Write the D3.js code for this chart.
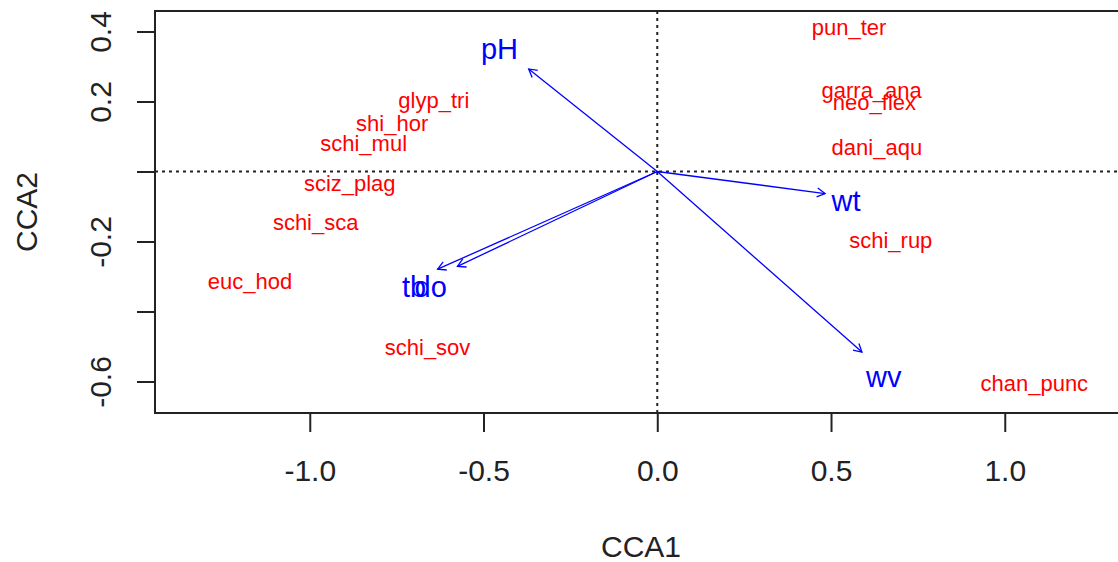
<!DOCTYPE html>
<html>
<head>
<meta charset="utf-8">
<script src="https://cdn.jsdelivr.net/npm/d3@7"></script>
<style>
  body { margin: 0; background: #fff; }
  svg { display: block; font-family: "Liberation Sans", Arial, sans-serif; }
</style>
</head>
<body>
<div id="ChartContainer"></div>
<script>
// species scores (CCA1, CCA2)
var species = ["pun_ter", "garra_ana", "neo_flex", "dani_aqu", "schi_rup", "chan_punc",
  "glyp_tri", "shi_hor", "schi_mul", "sciz_plag", "schi_sca", "euc_hod", "schi_sov"]
var speciesCCA1 = [0.552, 0.617, 0.625, 0.632, 0.672, 1.085,
  -0.643, -0.763, -0.845, -0.885, -0.983, -1.172, -0.661]
var speciesCCA2 = [0.413, 0.231, 0.199, 0.068, -0.197, -0.604,
  0.204, 0.137, 0.080, -0.034, -0.145, -0.313, -0.501]

// environmental vectors (arrow heads) and their label positions
var envVars = ["pH", "wt", "wv", "tb", "do"]
var envCCA1 = [-0.370, 0.483, 0.589, -0.632, -0.575]
var envCCA2 = [0.293, -0.063, -0.516, -0.279, -0.271]
var envLabelCCA1 = [-0.454, 0.543, 0.652, -0.700, -0.652]
var envLabelCCA2 = [0.350, -0.085, -0.587, -0.330, -0.330]

var xTicks = [-1.0, -0.5, 0.0, 0.5, 1.0]
var yTicks = [0.4, 0.2, 0.0, -0.2, -0.4, -0.6]
var yTickLabels = ["0.4", "0.2", "", "-0.2", "", "-0.6"]

var margin = { top: 11, right: 0, bottom: 149, left: 155 }
var fullWidth = 1118
var fullHeight = 562
var plotWidth = 975
var height = fullHeight - margin.top - margin.bottom

var x = d3.scaleLinear()
  .domain([-1.4454, 1.3604])
  .range([0, plotWidth])
var y = d3.scaleLinear()
  .domain([-0.6900, 0.4586])
  .range([height, 0])

var svg = d3.select("#ChartContainer").append("svg")
  .attr("width", fullWidth)
  .attr("height", fullHeight)

svg.append("defs").append("marker")
  .attr("id", "head")
  .attr("markerUnits", "userSpaceOnUse")
  .attr("viewBox", "-10 -6 12 12")
  .attr("refX", 0)
  .attr("refY", 0)
  .attr("markerWidth", 12)
  .attr("markerHeight", 12)
  .attr("orient", "auto")
  .append("path")
  .attr("d", "M-8,-4.5L0,0L-8,4.5")
  .attr("fill", "none")
  .attr("stroke", "#0000ff")
  .attr("stroke-width", 1.3)

var g = svg.append("g")
  .attr("transform", `translate(${margin.left},${margin.top})`)

// zero lines
g.append("line")
  .attr("x1", 0).attr("x2", plotWidth)
  .attr("y1", y(0)).attr("y2", y(0))
  .attr("stroke", "#222").attr("stroke-width", 2)
  .attr("stroke-dasharray", "3,4")
g.append("line")
  .attr("x1", x(0)).attr("x2", x(0))
  .attr("y1", 0).attr("y2", height)
  .attr("stroke", "#222").attr("stroke-width", 2)
  .attr("stroke-dasharray", "3,4")

// species labels
g.selectAll(".sp")
  .data(species)
  .enter().append("text")
  .attr("class", "sp")
  .attr("x", (d, i) => x(speciesCCA1[i]))
  .attr("y", (d, i) => y(speciesCCA2[i]))
  .attr("dy", "0.35em")
  .attr("text-anchor", "middle")
  .attr("font-size", 22)
  .attr("fill", "#ff0000")
  .text(d => d)

// biplot arrows
g.selectAll(".arrow")
  .data(envVars)
  .enter().append("line")
  .attr("class", "arrow")
  .attr("x1", x(0)).attr("y1", y(0))
  .attr("x2", (d, i) => x(envCCA1[i]))
  .attr("y2", (d, i) => y(envCCA2[i]))
  .attr("stroke", "#0000ff")
  .attr("stroke-width", 1.3)
  .attr("marker-end", "url(#head)")

g.selectAll(".env")
  .data(envVars)
  .enter().append("text")
  .attr("class", "env")
  .attr("x", (d, i) => x(envLabelCCA1[i]))
  .attr("y", (d, i) => y(envLabelCCA2[i]))
  .attr("dy", "0.35em")
  .attr("text-anchor", "middle")
  .attr("font-size", 29)
  .attr("fill", "#0000ff")
  .text(d => d)

// frame
g.append("rect")
  .attr("width", plotWidth)
  .attr("height", height)
  .attr("fill", "none")
  .attr("stroke", "#222")
  .attr("stroke-width", 2)

// x-axis
var xAxis = g.append("g")
  .attr("transform", "translate(0," + height + ")")
  .call(d3.axisBottom(x)
    .tickValues(xTicks)
    .tickSize(19)
    .tickPadding(28)
    .tickFormat(d => d.toFixed(1)))
xAxis.select(".domain").remove()
xAxis.selectAll("line").attr("stroke", "#222").attr("stroke-width", 2)
xAxis.selectAll("text").attr("font-size", 30).attr("fill", "#222")
  .attr("font-family", "Liberation Sans, Arial, sans-serif")

// y-axis
var yAxis = g.append("g")
  .call(d3.axisLeft(y)
    .tickValues(yTicks)
    .tickSize(18)
    .tickFormat((d, i) => yTickLabels[i]))
yAxis.select(".domain").remove()
yAxis.selectAll("line").attr("stroke", "#222").attr("stroke-width", 2)
yAxis.selectAll("text")
  .attr("font-size", 30).attr("fill", "#222")
  .attr("font-family", "Liberation Sans, Arial, sans-serif")
  .attr("text-anchor", "middle")
  .attr("x", null)
  .attr("transform", "translate(-55,0) rotate(-90)")
  .attr("y", 0)
  .attr("dy", "0.35em")

// axis titles
svg.append("text")
  .attr("x", 641)
  .attr("y", 557)
  .attr("text-anchor", "middle")
  .attr("font-size", 30)
  .attr("fill", "#222")
  .text("CCA1")

svg.append("text")
  .attr("transform", "translate(26,212) rotate(-90)")
  .attr("dy", "0.35em")
  .attr("text-anchor", "middle")
  .attr("font-size", 30)
  .attr("fill", "#222")
  .text("CCA2")
</script>
</body>
</html>
